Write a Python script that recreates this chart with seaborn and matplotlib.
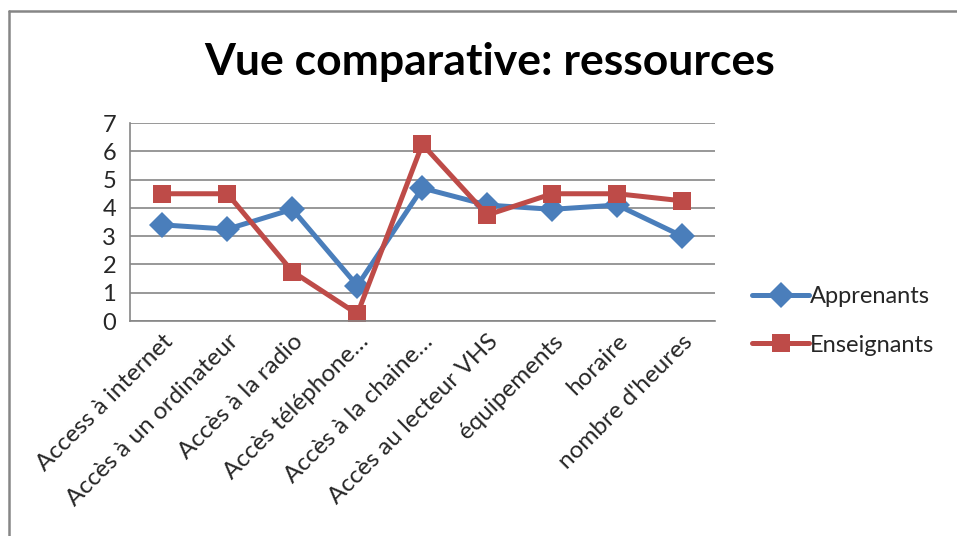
import matplotlib
matplotlib.use("Agg")
import matplotlib.pyplot as plt
import seaborn as sns
import pandas as pd
from matplotlib.lines import Line2D

categories = ["Access à internet", "Accès à un ordinateur", "Accès à la radio",
              "Accès téléphone…", "Accès à la chaine…", "Accès au lecteur VHS",
              "équipements", "horaire", "nombre d'heures"]
apprenants = [3.4, 3.25, 3.95, 1.25, 4.7, 4.1, 3.95, 4.1, 3.0]
enseignants = [4.5, 4.5, 1.75, 0.25, 6.25, 3.75, 4.5, 4.5, 4.25]

sns.set_style("white")
plt.rcParams['font.family'] = ['Lato', 'DejaVu Sans']

df = pd.DataFrame({
    "x": list(range(len(categories))) * 2,
    "val": apprenants + enseignants,
    "serie": ["Apprenants"] * len(categories) + ["Enseignants"] * len(categories),
})

fig = plt.figure(figsize=(9.57, 5.36), dpi=100)
ax = fig.add_axes([0.1358, 0.401, 0.611, 0.3695])

sns.lineplot(data=df, x="x", y="val", hue="serie", style="serie",
             palette={"Apprenants": "#4A7EBB", "Enseignants": "#BE4B48"},
             markers={"Apprenants": "D", "Enseignants": "s"}, dashes=False,
             linewidth=3.6, markersize=13.5, markeredgewidth=0, ax=ax)

ax.set_xlim(-0.5, len(categories) - 0.5)
ax.set_ylim(0, 7)
ax.set_yticks(range(8))
ax.set_xticks([i - 0.5 for i in range(len(categories) + 1)], minor=False)
ax.set_xticklabels([])
ax.set_xticks(range(len(categories)), minor=True)
ax.set_xticklabels(categories, minor=True, rotation=45, ha="right",
                   rotation_mode="anchor", fontsize=17.5)
ax.tick_params(axis="x", which="minor", length=0, pad=7)
ax.tick_params(axis="x", which="major", length=7, color="#868686", width=1.2)
ax.tick_params(axis="y", length=5, color="#868686", width=1.2, labelsize=17, pad=5)
ax.yaxis.grid(True, color="#868686", linewidth=1.2)
ax.set_axisbelow(True)
for s in ["top", "right"]:
    ax.spines[s].set_visible(False)
for s in ["left", "bottom"]:
    ax.spines[s].set_color("#868686")
    ax.spines[s].set_linewidth(1.2)
ax.set_xlabel("")
ax.set_ylabel("")

ax.legend(loc="center left", bbox_to_anchor=(1.04, 0.0), frameon=False,
          fontsize=17, handlelength=2.4, handletextpad=0.05, labelspacing=1.15,
          borderaxespad=0.2)

fig.text(0.512, 0.885, "Vue comparative: ressources", ha="center", va="center",
         fontsize=32, fontweight="bold", color="black")

top = 1 - 11 / 536
left = 9 / 957
fig.lines.append(Line2D([left, 1], [top, top], transform=fig.transFigure,
                        color="#868686", linewidth=1.8))
fig.lines.append(Line2D([left, left], [0, top], transform=fig.transFigure,
                        color="#868686", linewidth=1.8))

fig.savefig("out.png", dpi=100)
